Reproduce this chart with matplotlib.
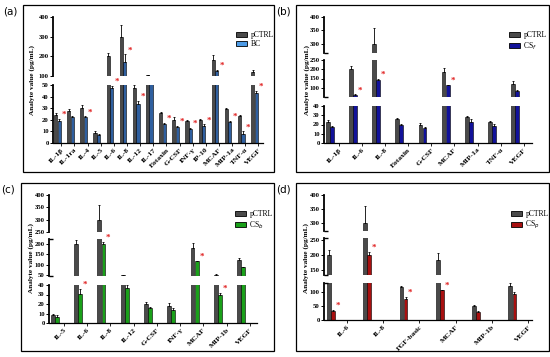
import matplotlib.pyplot as plt
import numpy as np
from matplotlib.patches import Rectangle

plt.rcParams['font.family'] = ['Liberation Serif', 'DejaVu Serif']

# ---- data ----
# (a) pCTRL vs BC
a_cats = ["IL-1β", "IL-1ra", "IL-4", "IL-5", "IL-6", "IL-8", "IL-12", "IL-17",
          "Eotaxin", "G-CSF", "INF-γ", "IP-10", "MCAF", "MIP-1a", "TNF-α", "VEGF"]
a_ctrl = [24, 28, 30, 9, 200, 300, 47, 103, 26, 20, 19, 20, 180, 29, 23, 120]
a_ctrl_err = [2, 1, 3, 1, 15, 60, 3, 4, 1, 2, 1, 1, 25, 1, 1, 10]
a_trt = [19, 22, 22, 7, 47, 170, 34, 60, 16, 14, 12, 15, 125, 18, 8, 43]
a_trt_err = [2, 1, 1, 1, 2, 40, 2, 0, 1, 1, 1, 1, 5, 1, 2, 2]
a_stars = [1, 0, 1, 0, 1, 1, 1, 1, 1, 1, 1, 1, 1, 1, 1, 1]

# (b) pCTRL vs CSf
b_cats = ["IL-1β", "IL-6", "IL-8", "Eotaxin", "G-CSF", "MCAF", "MIP-1a", "TNF-α", "VEGF"]
b_ctrl = [23, 200, 300, 26, 20, 183, 28, 23, 122]
b_ctrl_err = [2, 15, 60, 1, 2, 22, 1, 1, 12]
b_trt = [17, 62, 143, 19, 16, 113, 23, 18, 83]
b_trt_err = [1, 2, 3, 2, 1, 3, 3, 3, 3]
b_stars = [0, 1, 1, 0, 0, 1, 0, 0, 0]

# (c) pCTRL vs CSb
c_cats = ["IL-5", "IL-6", "IL-8", "IL-12", "G-CSF", "INF-γ", "MCAF", "MIP-1b", "VEGF"]
c_ctrl = [8, 200, 300, 50, 20, 18, 180, 52, 120]
c_ctrl_err = [2, 15, 60, 2, 2, 3, 25, 2, 12]
c_trt = [6, 31, 200, 37, 16, 14, 115, 29, 87]
c_trt_err = [2, 5, 10, 3, 1, 2, 3, 3, 3]
c_stars = [0, 1, 1, 0, 0, 0, 1, 1, 0]

# (d) pCTRL vs CSp
d_cats = ["IL-6", "IL-8", "FGF-basic", "MCAF", "MIP-1b", "VEGF"]
d_ctrl = [200, 300, 118, 183, 52, 122]
d_ctrl_err = [15, 60, 5, 22, 2, 10]
d_trt = [33, 200, 77, 107, 29, 93]
d_trt_err = [2, 10, 7, 2, 2, 7]
d_stars = [1, 1, 1, 1, 0, 0]

W, H = 550, 357
fig = plt.figure(figsize=(W / 100, H / 100), dpi=100)


def fx(px):
    return px / W


def fy(px):
    return 1 - px / H


def panel(label, frame, axis_x0, axis_x1, segs, xmax, cats, ctrl, ctrl_err,
          trt, trt_err, stars, color, leg_color, name, ylab_pos, leg_pos):
    # frame + label
    x0, y0, x1, y1 = frame
    fig.add_artist(Rectangle((fx(x0), fy(y1)), fx(x1 - x0), (y1 - y0) / H,
                             transform=fig.transFigure, fill=False, lw=0.9, ec='black'))
    fig.text(fx(x0 - 20), fy(y0 + 7), label, fontsize=7.5, family='DejaVu Sans', va='center')

    n = len(cats)
    x = np.arange(n)
    xlim = (-0.58, xmax)
    ppc = (axis_x1 - axis_x0) / (xlim[1] - xlim[0])
    w = min(3.8 / ppc, 0.24)
    xc = x - 0.5 + w / 2
    xt = xc + w + 0.3 / ppc

    axes = []
    for k, (ybot, ytop, lo, hi, ticks) in enumerate(segs):
        ax = fig.add_axes([fx(axis_x0), fy(ybot), fx(axis_x1 - axis_x0), (ybot - ytop) / H])
        ax.bar(xc, ctrl, w, color='#4a4a4a', edgecolor='black', lw=0.4)
        ax.bar(xt, trt, w, color=color, edgecolor='black', lw=0.4)
        ax.errorbar(xc, ctrl, yerr=[np.zeros(n), ctrl_err], fmt='none', ecolor='black',
                    elinewidth=0.6, capsize=1, capthick=0.6)
        ax.errorbar(xt, trt, yerr=[np.zeros(n), trt_err], fmt='none', ecolor='black',
                    elinewidth=0.6, capsize=1, capthick=0.6)
        ax.set_ylim(lo, hi)
        ax.set_xlim(*xlim)
        ax.set_yticks(ticks)
        ax.set_yticks([lo, hi], minor=True)
        ax.tick_params(axis='y', which='major', length=2, width=0.7, labelsize=4.8, pad=1)
        ax.tick_params(axis='y', which='minor', length=3, width=1.0, direction='in')
        for t in ax.get_yticklabels():
            t.set_fontweight('bold')
        ax.spines['top'].set_visible(False)
        ax.spines['right'].set_visible(False)
        ax.spines['left'].set_linewidth(1.3)
        ax.patch.set_visible(False)
        if k == 0:
            ax.spines['bottom'].set_linewidth(0.9)
            ax.set_xticks(x + 0.05)
            ax.set_xticklabels(cats, rotation=45, ha='right', rotation_mode='anchor',
                               fontsize=5.4, fontweight='bold')
            ax.tick_params(axis='x', length=2, width=0.6, pad=1)
        else:
            ax.spines['bottom'].set_visible(False)
            ax.set_xticks([])
        axes.append(ax)

    # significance stars on treatment bars
    for i in range(n):
        if not stars[i]:
            continue
        top = trt[i] + trt_err[i]
        for (ybot, ytop, lo, hi, ticks), ax in zip(segs, axes):
            if lo <= top <= hi:
                ax.annotate('*', xy=(xt[i], top), xytext=(3.5, 0), textcoords='offset points',
                            color='#e02020', fontsize=6.5, fontweight='bold', ha='center',
                            va='bottom', annotation_clip=False)
                break

    fig.text(fx(ylab_pos[0]), fy(ylab_pos[1]), "Analyte value (pg/mL)", rotation=90,
             fontsize=5.2, fontweight='bold', ha='center', va='center')

    handles = [Rectangle((0, 0), 1, 1, fc='#4a4a4a', ec='black', lw=0.6),
               Rectangle((0, 0), 1, 1, fc=leg_color, ec='black', lw=0.6)]
    axes[-1].legend(handles, ["pCTRL", name], loc='upper left',
                    bbox_to_anchor=(fx(leg_pos[0]), fy(leg_pos[1])),
                    bbox_transform=fig.transFigure, frameon=False, fontsize=5.5,
                    handlelength=1.4, handleheight=0.6, handletextpad=0.5,
                    labelspacing=0.2, borderpad=0)


panel("(a)", (23, 5, 274, 172), 53, 263,
      [(143, 85, 0, 50, [0, 10, 20, 30, 40, 50]),
       (76, 17, 100, 400, [100, 200, 300, 400])],
      15.4, a_cats, a_ctrl, a_ctrl_err, a_trt, a_trt_err, a_stars,
      '#2f5f9f', '#4d9be6', "BC", (32, 80), (232, 27))

panel("(b)", (296, 5, 549, 172), 324, 532,
      [(143, 106, 0, 40, [0, 10, 20, 30, 40]),
       (97, 60, 50, 250, [100, 150, 200, 250]),
       (53, 17, 265, 400, [300, 350, 400])],
      8.4, b_cats, b_ctrl, b_ctrl_err, b_trt, b_trt_err, b_stars,
      '#12129a', '#12129a', "CS$_f$", (307, 80), (505, 27))

panel("(c)", (21, 183, 274, 351), 49, 257,
      [(323, 285, 0, 40, [0, 10, 20, 30, 40]),
       (276, 239, 45, 222, [50, 100, 150, 200]),
       (232, 195, 250, 400, [250, 300, 350, 400])],
      8.35, c_cats, c_ctrl, c_ctrl_err, c_trt, c_trt_err, c_stars,
      '#1aa01a', '#1aa01a', "CS$_b$", (31, 258), (231, 206))

panel("(d)", (296, 183, 549, 351), 324, 532,
      [(320, 283, 0, 133, [0, 50, 100]),
       (275, 238, 135, 255, [150, 200, 250]),
       (231, 195, 270, 400, [300, 350, 400])],
      5.15, d_cats, d_ctrl, d_ctrl_err, d_trt, d_trt_err, d_stars,
      '#a81010', '#a81010', "CS$_p$", (306, 258), (507, 206))

fig.savefig("out.png", dpi=100)
